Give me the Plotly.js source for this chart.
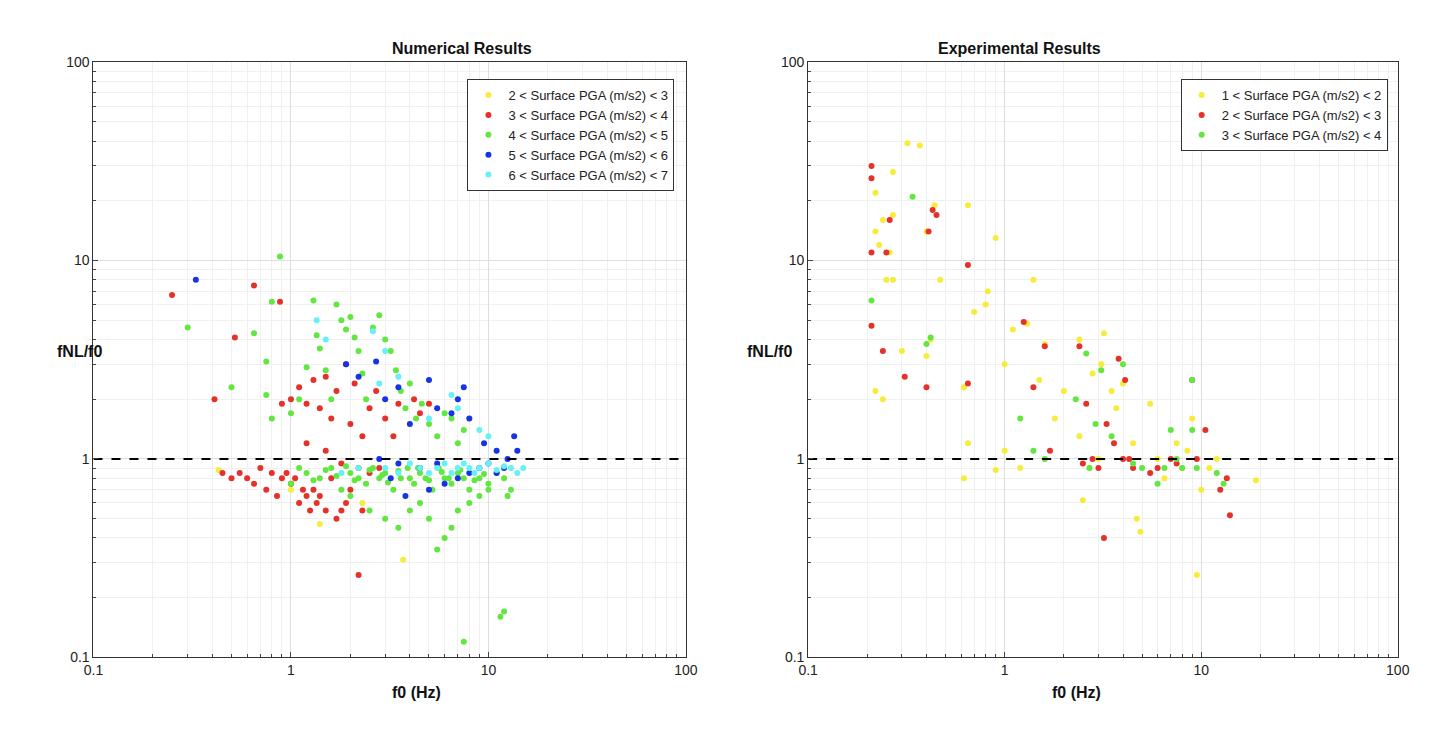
<!DOCTYPE html>
<html><head><meta charset="utf-8">
<script src="https://cdn.plot.ly/plotly-3.0.1.min.js"></script>
<style>body{margin:0;background:#fff}#c{width:1438px;height:732px}</style>
</head><body><div id="c"></div>
<script>
// Numerical results
const numYellowX=[0.43,1.4,3.7,1.0,2.3];
const numYellowY=[0.88,0.47,0.31,0.7,0.6];
const numRedX=[0.25,0.65,0.88,0.52,0.41,0.45,0.5,0.55,0.6,0.65,0.7,0.75,0.8,0.85,0.9,0.95,1.0,1.05,1.1,1.15,1.2,1.25,1.3,1.35,1.4,1.5,1.6,1.7,1.8,1.9,2.0,2.2,2.3,2.5,0.9,1.0,1.1,1.2,1.3,1.4,1.5,1.6,1.7,1.9,2.0,2.1,2.3,2.5,2.7,3.0,3.3,3.5,4.2,4.5,5.0,1.2,1.5,1.8,2.2,2.8];
const numRedY=[6.7,7.5,6.2,4.1,2.0,0.85,0.8,0.85,0.8,0.75,0.9,0.7,0.85,0.65,0.8,0.85,0.75,0.8,0.6,0.7,0.65,0.55,0.7,0.6,0.65,0.55,0.8,0.5,0.55,0.6,0.7,0.26,0.55,0.85,1.9,2.0,2.3,1.9,2.5,1.8,2.6,1.6,2.2,3.0,1.5,2.4,1.3,1.8,2.2,1.6,1.3,1.9,2.0,1.7,1.9,1.2,1.1,0.95,0.9,0.9];
const numGreenX=[0.3,0.5,0.65,0.75,0.8,0.88,0.75,0.8,1.0,1.1,1.2,1.3,1.35,1.4,1.5,1.6,1.7,1.8,1.9,2.0,2.1,2.2,2.3,2.4,2.6,2.8,3.0,3.2,3.4,3.6,3.8,4.0,4.3,4.6,5.0,5.5,6.0,6.5,7.0,7.5,
1.0,1.2,1.4,1.6,1.8,2.0,2.2,2.4,2.6,2.8,3.0,3.3,3.6,3.9,4.2,4.5,4.8,5.2,5.6,6.0,6.5,7.0,7.5,8.0,9.0,10,11,12,13,
1.1,1.3,1.5,1.7,1.9,2.1,2.5,2.9,3.1,3.5,4.0,4.4,5.0,5.8,6.3,7.2,8.5,9.5,
3.5,4.0,4.5,5.0,5.5,6.0,6.5,7.0,7.5,8.0,9.0,10,11.5,12,12.5,2.5,3.0,2.0];
const numGreenY=[4.6,2.3,4.3,3.1,6.2,10.5,2.1,1.6,1.7,2.0,2.9,6.3,4.2,3.6,2.8,2.0,6.0,5.0,4.5,5.2,4.1,3.5,2.7,2.0,4.6,5.3,4.0,3.5,2.8,2.2,1.8,2.4,1.6,1.9,1.5,1.3,1.7,1.6,1.2,1.4,
0.75,0.85,0.8,0.9,0.7,0.85,0.8,0.75,0.9,0.8,0.85,0.7,0.8,0.9,0.75,0.85,0.8,0.7,0.9,0.8,0.75,0.85,0.8,0.7,0.8,0.75,0.85,0.8,0.7,
0.9,0.78,0.88,0.82,0.92,0.78,0.88,0.83,0.76,0.87,0.8,0.9,0.78,0.86,0.8,0.88,0.78,0.84,
0.45,0.55,0.6,0.5,0.35,0.4,0.45,0.55,0.12,0.6,0.65,0.7,0.16,0.17,0.65,0.55,0.5,0.65];
const numBlueX=[0.33,1.9,2.2,2.7,3.0,3.5,4.0,5.0,5.5,6.5,7.0,7.5,8,9.5,11,12.5,13.5,14,2.8,3.5,4.5,5.5,6,7,8,9,10,11,12,3.8,3.2,5.0];
const numBlueY=[8.0,3.0,2.6,3.1,2.0,2.3,1.5,2.5,1.8,1.7,2.0,2.3,1.6,1.2,1.1,1.0,1.3,1.1,1.0,0.95,0.9,0.95,0.75,0.8,0.85,0.9,0.95,0.85,0.9,0.65,0.8,0.7];
const numCyanX=[1.35,1.5,2.6,3.0,3.5,2.8,6.5,7,9,10,5,3,3.5,4,4.5,5,5.5,6,6.5,7,7.5,8,8.5,9,10,11,12,13,14,15,1.8,2.2];
const numCyanY=[5.0,4.0,4.4,3.5,2.6,2.4,2.1,1.8,1.4,1.3,1.6,0.9,0.85,0.95,0.9,0.85,0.9,0.95,0.85,0.9,0.95,0.9,0.85,0.9,0.95,0.88,0.92,0.9,0.85,0.9,0.85,0.9];
// Experimental results
const expYellowX=[0.22,0.22,0.23,0.24,0.26,0.27,0.27,0.25,0.27,0.22,0.24,0.32,0.37,0.40,0.44,0.47,0.40,0.42,0.3,0.65,0.9,0.82,0.8,0.7,0.62,0.65,0.62,0.9,1.0,1.1,1.3,1.4,1.0,1.5,1.6,1.8,2.0,2.4,2.4,2.5,2.8,3.2,3.1,3.5,3.7,4.0,4.5,4.7,4.9,5.5,6,6.5,7.5,8,8.5,9,9.5,10,11,12,19,2.7,3.0,1.2];
const expYellowY=[22,14,12,16,11,28,17,8,8,2.2,2.0,39,38,14,19,8,3.3,4.0,3.5,19,13,7,6,5.5,2.3,1.2,0.8,0.88,1.1,4.5,4.8,8,3.0,2.5,3.8,1.6,2.2,4.0,1.3,0.62,2.7,4.3,3.0,2.2,1.8,2.4,1.2,0.5,0.43,1.9,1.0,0.8,1.2,0.9,1.1,1.6,0.26,0.7,0.9,1.0,0.78,0.9,1.0,0.9];
const expRedX=[0.21,0.21,0.21,0.21,0.24,0.25,0.26,0.31,0.4,0.41,0.43,0.45,0.65,0.65,1.25,1.4,1.6,1.7,2.4,2.5,2.6,2.8,3.0,3.2,3.3,3.6,3.8,4.0,4.1,4.3,4.5,5.5,6,7,7.5,9,9.5,10.5,12.5,13.5,14];
const expRedY=[30,26,11,4.7,3.5,11,16,2.6,2.3,14,18,17,9.5,2.4,4.9,2.3,3.7,1.1,3.7,0.95,1.9,1.0,0.9,0.4,1.5,1.2,3.2,1.0,2.5,1.0,0.9,0.85,0.9,1.0,0.95,2.5,1.0,1.4,0.7,0.8,0.52];
const expGreenX=[0.21,0.34,0.4,0.42,1.2,1.4,1.6,2.3,2.6,2.7,3.1,2.9,4.0,3.5,4.5,5.0,6,6.5,7.0,7.5,8,9,9,9.5,12,13];
const expGreenY=[6.3,21,3.8,4.1,1.6,1.1,1.0,2.0,3.4,0.9,2.8,1.5,3.0,1.3,0.95,0.9,0.75,0.9,1.4,1.0,0.9,2.5,1.4,0.9,0.85,0.75];

const C={y:'#f7ec3c',r:'#e6302a',g:'#62e640',b:'#1633e6',c:'#66f0f7'};
function sc(x,y,name,col,xa,ya,lg){return {type:'scatter',mode:'markers',x:x,y:y,name:name,xaxis:xa,yaxis:ya,legend:lg,marker:{color:col,size:6}};}
function dash(xa,ya){return {type:'scatter',mode:'lines',x:[0.1,100],y:[1,1],xaxis:xa,yaxis:ya,showlegend:false,line:{color:'#000',dash:'dash',width:2}};}
const data=[
 sc(numYellowX,numYellowY,'2 < Surface PGA (m/s2) < 3',C.y,'x','y','legend'),
 sc(numRedX,numRedY,'3 < Surface PGA (m/s2) < 4',C.r,'x','y','legend'),
 sc(numGreenX,numGreenY,'4 < Surface PGA (m/s2) < 5',C.g,'x','y','legend'),
 sc(numBlueX,numBlueY,'5 < Surface PGA (m/s2) < 6',C.b,'x','y','legend'),
 sc(numCyanX,numCyanY,'6 < Surface PGA (m/s2) < 7',C.c,'x','y','legend'),
 dash('x','y'),
 sc(expYellowX,expYellowY,'1 < Surface PGA (m/s2) < 2',C.y,'x2','y2','legend2'),
 sc(expRedX,expRedY,'2 < Surface PGA (m/s2) < 3',C.r,'x2','y2','legend2'),
 sc(expGreenX,expGreenY,'3 < Surface PGA (m/s2) < 4',C.g,'x2','y2','legend2'),
 dash('x2','y2')
];
function ax(dom,anchor){return {type:'log',domain:dom,anchor:anchor,range:[-1,2],dtick:1,showline:true,mirror:true,linecolor:'#333',linewidth:1,gridcolor:'#dedede',zeroline:false,ticks:'inside',ticklen:5,tickfont:{size:14,color:'#222'},minor:{dtick:'D1',showgrid:true,gridcolor:'#f0f0f0',ticks:'inside',ticklen:3}};}
const F='Liberation Sans, Arial, sans-serif';
const legStyle={bgcolor:'#fff',bordercolor:'#333',borderwidth:1,font:{size:13,color:'#222'},yanchor:'top',xanchor:'right',itemwidth:30,tracegroupgap:0};
const layout={width:1438,height:732,margin:{l:0,r:0,t:0,b:0},paper_bgcolor:'#fff',plot_bgcolor:'#fff',font:{family:F},
 xaxis:ax([0.065,0.477],'y'),yaxis:ax([0.102,0.915],'x'),
 xaxis2:ax([0.562,0.972],'y2'),yaxis2:ax([0.102,0.915],'x2'),
 legend:Object.assign({x:0.469,y:0.892},legStyle),
 legend2:Object.assign({x:0.965,y:0.892},legStyle),
 annotations:[
  {text:'<b>Numerical Results</b>',xref:'paper',yref:'paper',x:0.271,y:0.948,showarrow:false,font:{size:16,color:'#111'}},
  {text:'<b>Experimental Results</b>',xref:'paper',yref:'paper',x:0.767,y:0.948,showarrow:false,font:{size:16,color:'#111'}},
  {text:'<b>f0 (Hz)</b>',xref:'paper',yref:'paper',x:0.271,y:0.04,showarrow:false,font:{size:16,color:'#111'}},
  {text:'<b>f0 (Hz)</b>',xref:'paper',yref:'paper',x:0.767,y:0.04,showarrow:false,font:{size:16,color:'#111'}},
  {text:'<b>fNL/f0</b>',xref:'paper',yref:'paper',x:0.038,y:0.52,showarrow:false,font:{size:16,color:'#111'}},
  {text:'<b>fNL/f0</b>',xref:'paper',yref:'paper',x:0.535,y:0.52,showarrow:false,font:{size:16,color:'#111'}}
 ]};
Plotly.newPlot('c',data,layout,{displayModeBar:false});
</script></body></html>
